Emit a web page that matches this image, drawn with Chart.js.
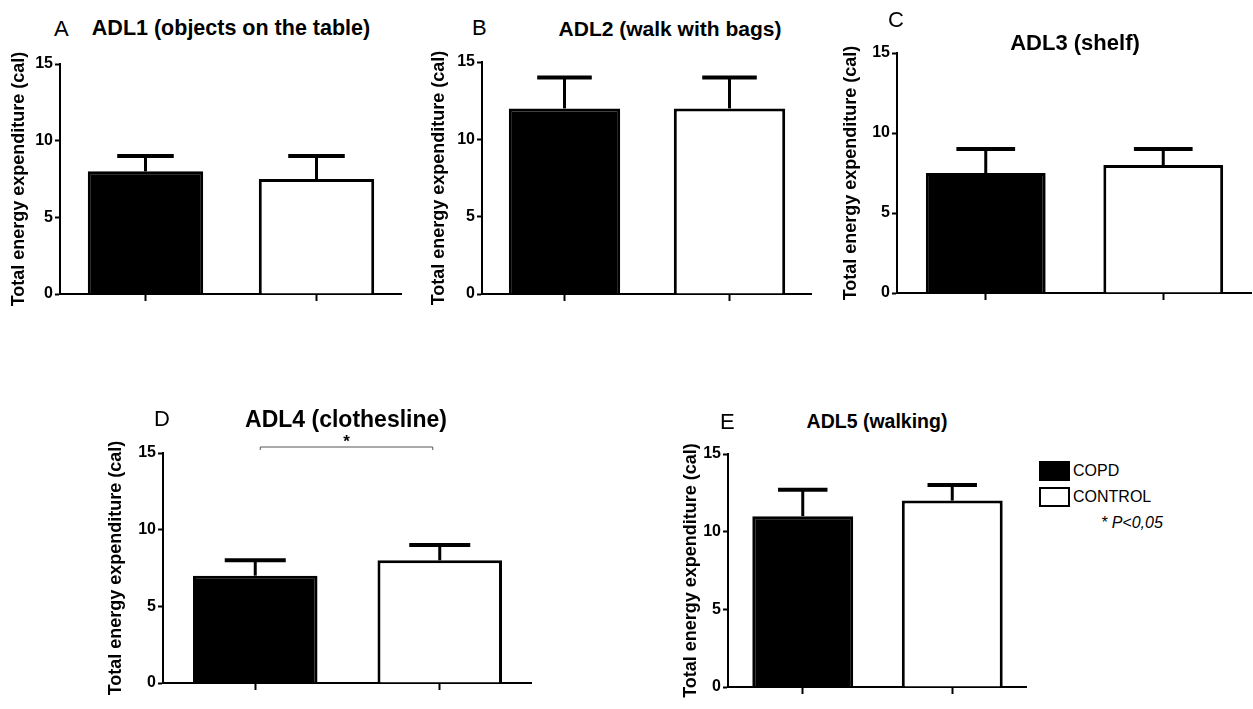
<!DOCTYPE html>
<html>
<head>
<meta charset="utf-8">
<script src="https://cdn.jsdelivr.net/npm/chart.js@4/dist/chart.umd.min.js"></script>
<style>
  body { margin: 0; background: #fff; width: 1253px; height: 709px; position: relative; overflow: hidden;
         font-family: "Liberation Sans", Arial, sans-serif; }
  canvas { position: absolute; }
  .txt { position: absolute; white-space: nowrap; color: #000; line-height: 1; z-index: 2; }
  .title { font-weight: bold; transform: translate(-50%, -50%); }
  .letter { font-size: 22px; transform: translateY(-50%); }
  .box { position: absolute; box-sizing: border-box; border: 2px solid #000; z-index: 2; }
  .leg { font-size: 16px; transform: translateY(-50%); }
</style>
</head>
<body>
<div id="fig"></div>

<script>
// data
const panelLetters = ["A", "B", "C", "D", "E"];
const panelTitles = [
  "ADL1 (objects on the table)",
  "ADL2 (walk with bags)",
  "ADL3 (shelf)",
  "ADL4 (clothesline)",
  "ADL5 (walking)"
];
const groups = ["COPD", "CONTROL"];
const copdMean = [8, 12, 7.5, 7, 11];
const copdSd = [1, 2, 1.5, 1, 1.7];
const controlMean = [7.5, 12, 8, 8, 12];
const controlSd = [1.5, 2, 1, 1, 1];
const yTicks = [0, 5, 10, 15];
const yLabel = "Total energy expenditure (cal)";
const significant = [false, false, false, true, false];

// where each panel sits on the page
const layout = [
  { left: 8,   top: 52,  w: 394, h: 262, yw: 52, pad: 12, title: [231, 29],  tsize: 21.5, letter: [54, 29] },
  { left: 428, top: 50,  w: 384, h: 264, yw: 54, pad: 12, title: [670, 28],  tsize: 21,   letter: [472, 28] },
  { left: 840, top: 41,  w: 412, h: 272, yw: 57, pad: 12, title: [1075, 43], tsize: 22,   letter: [888, 20] },
  { left: 105, top: 423, w: 427, h: 280, yw: 58, pad: 30, title: [346, 419], tsize: 23,   letter: [154, 419] },
  { left: 680, top: 442, w: 347, h: 265, yw: 48, pad: 12, title: [877, 422], tsize: 19.5, letter: [720, 422] }
];

const FAM = '"Liberation Sans", Arial, sans-serif';
Chart.defaults.font.family = FAM;
Chart.defaults.color = "#000";

const fig = document.getElementById("fig");

function addText(cls, txt, x, y) {
  const d = document.createElement("div");
  d.className = "txt " + cls;
  d.textContent = txt;
  d.style.left = x + "px";
  d.style.top = y + "px";
  fig.appendChild(d);
  return d;
}

// upward error bars with caps
const errorBars = {
  id: "errorBars",
  afterDatasetsDraw(chart) {
    const ctx = chart.ctx;
    const y = chart.scales.y;
    const meta = chart.getDatasetMeta(0);
    const sds = chart.data.datasets[0].sd;
    const vals = chart.data.datasets[0].data;
    ctx.save();
    ctx.strokeStyle = "#000";
    ctx.lineWidth = 3;
    meta.data.forEach((bar, i) => {
      const top = y.getPixelForValue(vals[i] + sds[i]);
      const half = bar.width * 0.245;
      ctx.beginPath();
      ctx.moveTo(bar.x, bar.y);
      ctx.lineTo(bar.x, top);
      ctx.stroke();
      ctx.lineWidth = 4;
      ctx.beginPath();
      ctx.moveTo(bar.x - half, top);
      ctx.lineTo(bar.x + half, top);
      ctx.stroke();
      ctx.lineWidth = 3;
    });
    ctx.restore();
  }
};

// significance bracket above the bars
const sigBracket = {
  id: "sigBracket",
  afterDraw(chart) {
    if (!chart.options.plugins.sigBracket.show) return;
    const ctx = chart.ctx;
    const x = chart.scales.x;
    const x1 = x.getPixelForValue(0) + 5;
    const x2 = x.getPixelForValue(1) - 7;
    const yy = chart.chartArea.top - 6;
    ctx.save();
    ctx.strokeStyle = "#555";
    ctx.lineWidth = 1;
    ctx.beginPath();
    ctx.moveTo(x1, yy + 3); ctx.lineTo(x1, yy);
    ctx.lineTo(x2, yy); ctx.lineTo(x2, yy + 3);
    ctx.stroke();
    ctx.fillStyle = "#000";
    ctx.font = "bold 17px " + FAM;
    ctx.textAlign = "center";
    ctx.textBaseline = "middle";
    ctx.fillText("*", (x1 + x2) / 2, yy - 5);
    ctx.restore();
  }
};

function makePanel(i) {
  const L = layout[i];
  const cv = document.createElement("canvas");
  cv.width = L.w;
  cv.height = L.h;
  cv.style.left = L.left + "px";
  cv.style.top = L.top + "px";
  fig.appendChild(cv);

  const t = addText("title", panelTitles[i], L.title[0], L.title[1]);
  t.style.fontSize = L.tsize + "px";
  addText("letter", panelLetters[i], L.letter[0], L.letter[1]);

  new Chart(cv, {
    type: "bar",
    data: {
      labels: groups,
      datasets: [{
        data: [copdMean[i], controlMean[i]],
        sd: [copdSd[i], controlSd[i]],
        backgroundColor: ["#000", "#fff"],
        borderColor: "#000",
        borderWidth: 3,
        categoryPercentage: 1,
        barPercentage: 0.675
      }]
    },
    options: {
      responsive: false,
      animation: false,
      layout: { padding: { top: L.pad, left: 0, right: 0, bottom: 0 } },
      plugins: {
        legend: { display: false },
        tooltip: { enabled: false },
        sigBracket: { show: significant[i] }
      },
      scales: {
        x: {
          offset: true,
          grid: { display: true, drawOnChartArea: false, offset: false, tickLength: 7, tickColor: "#000", tickWidth: 2 },
          border: { color: "#000", width: 2 },
          ticks: { callback: () => "" },
          afterFit: s => { s.height = 20; }
        },
        y: {
          min: 0,
          max: 15,
          afterBuildTicks: s => { s.ticks = yTicks.map(v => ({ value: v })); },
          grid: { display: true, drawOnChartArea: false, tickLength: 5, tickColor: "#000", tickWidth: 2 },
          border: { color: "#000", width: 2 },
          ticks: { font: { family: FAM, size: 16, weight: "bold" }, color: "#000", padding: 2 },
          title: { display: true, text: yLabel, font: { family: FAM, size: 18, weight: "bold" }, color: "#000", padding: 0 },
          afterFit: s => { s.width = L.yw; }
        }
      }
    },
    plugins: [errorBars, sigBracket]
  });
}

for (let i = 0; i < panelTitles.length; i++) makePanel(i);

// legend for the whole figure
const b1 = document.createElement("div");
b1.className = "box";
Object.assign(b1.style, { left: "1039px", top: "461px", width: "31px", height: "20px", background: "#000" });
fig.appendChild(b1);
const b2 = document.createElement("div");
b2.className = "box";
Object.assign(b2.style, { left: "1039px", top: "487px", width: "31px", height: "20px", background: "#fff" });
fig.appendChild(b2);
addText("leg", groups[0], 1073, 471);
addText("leg", groups[1], 1073, 497);
const p = addText("leg", "* P<0,05", 1101, 523);
p.style.fontStyle = "italic";
p.style.fontSize = "16px";
</script>
</body>
</html>
